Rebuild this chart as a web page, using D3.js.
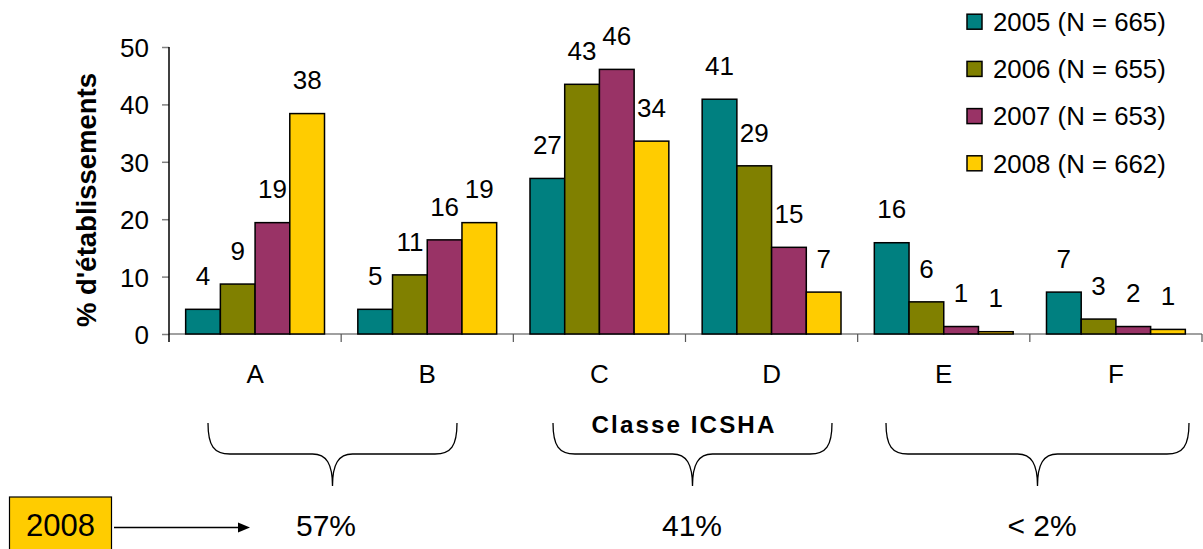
<!DOCTYPE html>
<html>
<head>
<meta charset="utf-8">
<script src="https://cdn.jsdelivr.net/npm/d3@7"></script>
<style>
  html, body { margin: 0; padding: 0; background: #fff; }
  svg { display: block; }
  text { font-family: "Liberation Sans", Arial, sans-serif; fill: #000; }
</style>
</head>
<body>
<svg id="chart" width="1203" height="549"></svg>
<script>
// ---- data ----
const categories = ["A", "B", "C", "D", "E", "F"];
const seriesNames = ["2005 (N = 665)", "2006 (N = 655)", "2007 (N = 653)", "2008 (N = 662)"];
const seriesColors = ["#008080", "#808000", "#993366", "#FFCC00"];
const values2005 = [4.3, 4.3, 27.1, 40.9, 15.9, 7.3];
const values2006 = [8.7, 10.3, 43.5, 29.3, 5.6, 2.6];
const values2007 = [19.4, 16.4, 46.1, 15.1, 1.3, 1.3];
const values2008 = [38.4, 19.4, 33.6, 7.3, 0.4, 0.8];
const labels2005 = ["4", "5", "27", "41", "16", "7"];
const labels2006 = ["9", "11", "43", "29", "6", "3"];
const labels2007 = ["19", "16", "46", "15", "1", "2"];
const labels2008 = ["38", "19", "34", "7", "1", "1"];
const yTicks = [0, 10, 20, 30, 40, 50];
const yTitle = "% d'établissements";
const xTitle = "Classe ICSHA";
const groupSpans = [["A", "B"], ["C", "D"], ["E", "F"]];
const groupLabels = ["57%", "41%", "< 2%"];
const boxLabel = "2008";

const allValues = [values2005, values2006, values2007, values2008];
const allLabels = [labels2005, labels2006, labels2007, labels2008];

// ---- layout ----
const svg = d3.select("#chart");
const plotLeft = 169, plotRight = 1202, plotTop = 47, plotBottom = 334;

const x = d3.scaleBand().domain(categories).range([plotLeft, plotRight]).paddingInner(0).paddingOuter(0);
const x1 = d3.scaleBand().domain(d3.range(seriesNames.length)).range([0, x.bandwidth()]).paddingInner(0).paddingOuter(0.48);
const y = d3.scaleLinear().domain([0, 50]).range([plotBottom, plotTop]);

function txt(g, str, tx, ty, size, anchor, weight) {
  return g.append("text")
    .attr("x", tx).attr("y", ty)
    .attr("text-anchor", anchor || "middle")
    .style("font-size", size + "px")
    .style("font-weight", weight || "normal")
    .text(str);
}

// x baseline
svg.append("line").attr("x1", plotLeft).attr("x2", plotRight).attr("y1", plotBottom).attr("y2", plotBottom)
  .attr("stroke", "#808080").attr("stroke-width", 1.5);

// category separators
const seps = categories.map(c => x(c)).concat([plotRight]);
svg.selectAll("line.sep").data(seps.slice(1)).enter().append("line")
  .attr("class", "sep")
  .attr("x1", d => d).attr("x2", d => d).attr("y1", plotBottom).attr("y2", plotBottom + 8)
  .attr("stroke", "#555").attr("stroke-width", 1.2);

// y axis
const yAxis = d3.axisLeft(y).tickValues(yTicks).tickSize(7).tickPadding(13).tickFormat(d3.format("d"));
const ya = svg.append("g").attr("transform", `translate(${plotLeft},0)`).call(yAxis);
ya.select(".domain").remove();
ya.selectAll(".tick line").attr("stroke", "#808080").attr("stroke-width", 1.5);
ya.selectAll(".tick text")
  .attr("dy", null).attr("y", 9.5)
  .style("font-size", "26px")
  .style("font-family", "'Liberation Sans', Arial, sans-serif")
  .attr("fill", "#000");
ya.attr("font-size", null).attr("font-family", null);
svg.append("line").attr("x1", plotLeft).attr("x2", plotLeft).attr("y1", plotTop).attr("y2", plotBottom + 8)
  .attr("stroke", "#000").attr("stroke-width", 1.5);

// y title
svg.append("text")
  .attr("transform", `translate(96,200) rotate(-90)`)
  .attr("text-anchor", "middle")
  .style("font-size", "27.5px").style("font-weight", "bold")
  .text(yTitle);

// bars
const groups = svg.selectAll("g.cat").data(categories).enter().append("g")
  .attr("class", "cat").attr("transform", c => `translate(${x(c)},0)`);
groups.each(function(c, ci) {
  const g = d3.select(this);
  allValues.forEach((vals, si) => {
    g.append("rect")
      .attr("x", x1(si)).attr("y", y(vals[ci]))
      .attr("width", x1.bandwidth()).attr("height", plotBottom - y(vals[ci]))
      .attr("fill", seriesColors[si]).attr("stroke", "#000").attr("stroke-width", 1.5);
    txt(g, allLabels[si][ci], x1(si) + x1.bandwidth() / 2, y(vals[ci]) - 24.3, 26, "middle");
  });
});

// category labels
categories.forEach(c => txt(svg, c, x(c) + x.bandwidth() / 2, 382.5, 26, "middle"));

// legend
seriesNames.forEach((name, i) => {
  const cy = 21.7 + i * 47.2;
  svg.append("rect").attr("x", 967).attr("y", cy - 7.5).attr("width", 15).attr("height", 15)
    .attr("fill", seriesColors[i]).attr("stroke", "#000").attr("stroke-width", 1.5);
  txt(svg, name, 993, cy + 9.3, 25.8, "start");
});

// x title
svg.append("text")
  .attr("transform", `translate(684,433) scale(1.05,1)`)
  .attr("text-anchor", "middle")
  .style("font-size", "23px").style("font-weight", "bold").style("letter-spacing", "2px")
  .text(xTitle);

// braces
const braceExt = [[208, 457], [553, 832], [886, 1189]];
const braceTop = 423, braceMid = 454, braceTip = 486;
function bracePath(l, r) {
  const c = (l + r) / 2;
  return `M${l},${braceTop} C${l},${braceMid - 8} ${l + 6},${braceMid} ${l + 22},${braceMid}` +
    ` L${c - 20},${braceMid} C${c - 6},${braceMid} ${c},${braceMid + 10} ${c},${braceTip}` +
    ` C${c},${braceMid + 10} ${c + 6},${braceMid} ${c + 20},${braceMid}` +
    ` L${r - 22},${braceMid} C${r - 6},${braceMid} ${r},${braceMid - 8} ${r},${braceTop}`;
}
const groupLabelX = [326, 692, 1042];
groupSpans.forEach((span, i) => {
  const [l, r] = braceExt[i];
  svg.append("path").attr("d", bracePath(l, r)).attr("fill", "none").attr("stroke", "#000").attr("stroke-width", 1.3);
  txt(svg, groupLabels[i], groupLabelX[i], 536, 30, "middle");
});

// 2008 box + arrow
svg.append("rect").attr("x", 9.5).attr("y", 497).attr("width", 102).attr("height", 70)
  .attr("fill", "#FFCC00").attr("stroke", "#000").attr("stroke-width", 1.2);
txt(svg, boxLabel, 60.5, 536, 31, "middle");
svg.append("line").attr("x1", 114).attr("x2", 240).attr("y1", 527.5).attr("y2", 527.5)
  .attr("stroke", "#000").attr("stroke-width", 1.5);
svg.append("path").attr("d", "M238,522.5 L250,527.5 L238,532.5 Z").attr("fill", "#000");
</script>
</body>
</html>
